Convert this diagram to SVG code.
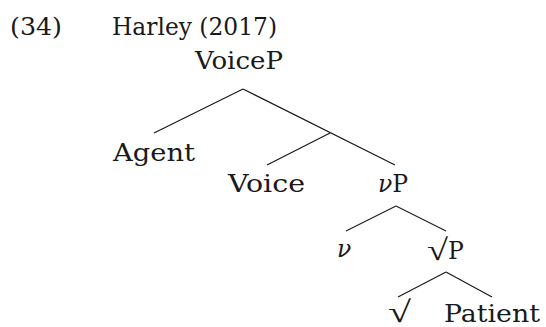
<svg xmlns="http://www.w3.org/2000/svg" width="546" height="327" viewBox="0 0 546 327">
<style>
text{font-family:"DejaVu Serif","Liberation Serif",serif;font-size:23.5px;fill:#1a1a1a}
.it{font-style:italic}
.rt{font-family:"Liberation Serif","DejaVu Serif",serif;font-size:30px}
line{stroke:#1a1a1a;stroke-width:1.2}
</style>
<rect width="546" height="327" fill="#fff"/>
<g id="label">
<text x="10" y="35" textLength="52" lengthAdjust="spacingAndGlyphs">(34)</text>
<text x="112" y="35" textLength="165" lengthAdjust="spacingAndGlyphs">Harley (2017)</text>
</g>
<g id="connectors">
<line x1="243" y1="89" x2="154" y2="133"/>
<line x1="243" y1="89" x2="395" y2="165"/>
<line x1="330" y1="133" x2="267" y2="165"/>
<line x1="396" y1="206" x2="346" y2="231"/>
<line x1="396" y1="206" x2="446" y2="231"/>
<line x1="446" y1="272" x2="398" y2="297"/>
<line x1="446" y1="272" x2="492" y2="297"/>
</g>
<g id="n-voicep"><text x="195" y="69" textLength="88" lengthAdjust="spacingAndGlyphs">VoiceP</text></g>
<g id="n-agent"><text x="113" y="161" textLength="82" lengthAdjust="spacingAndGlyphs">Agent</text></g>
<g id="n-voice"><text x="228" y="192" textLength="77" lengthAdjust="spacingAndGlyphs">Voice</text></g>
<g id="n-vp"><text x="378" y="192"><tspan class="it">ν</tspan>P</text></g>
<g id="n-v"><text x="337" y="257" class="it">ν</text></g>
<g id="n-rootp"><text x="427" y="260" class="rt" textLength="21" lengthAdjust="spacingAndGlyphs">√</text><text x="448" y="259">P</text></g>
<g id="n-root"><text x="388" y="322" class="rt" textLength="23" lengthAdjust="spacingAndGlyphs">√</text></g>
<g id="n-patient"><text x="444" y="322" textLength="96" lengthAdjust="spacingAndGlyphs">Patient</text></g>
</svg>
